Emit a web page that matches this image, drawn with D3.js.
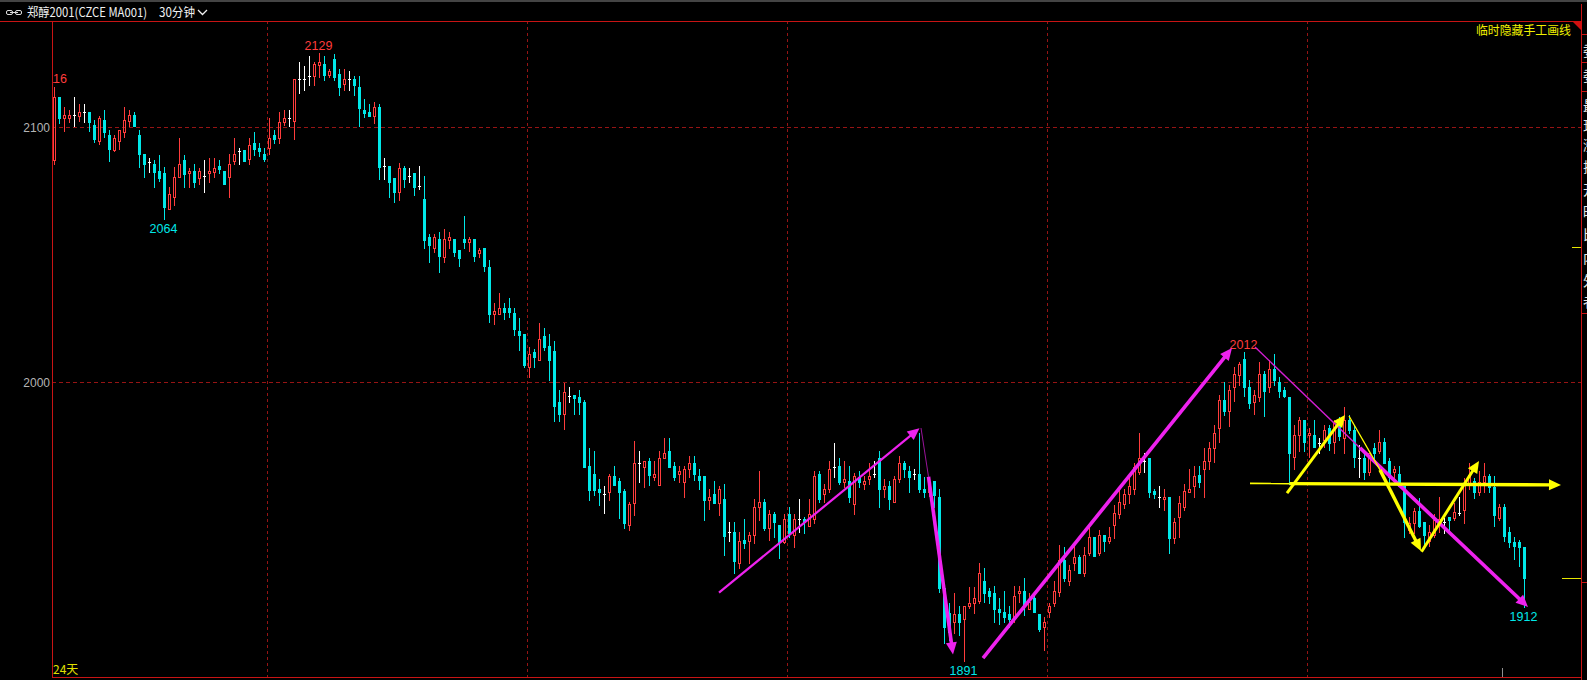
<!DOCTYPE html>
<html><head><meta charset="utf-8">
<script src="https://cdn.jsdelivr.net/npm/d3@7"></script>
<style>
html,body{margin:0;padding:0;background:#000;overflow:hidden;}
svg{display:block;}
</style></head><body>
<svg id="c" width="1587" height="680"></svg>
<script>
// ---------------- DATA ----------------
const opens = [2087.0,2111.6,2103.7,2103.7,2104.7,2104.4,2105.7,2105.7,2100.7,2094.6,
2102.7,2096.8,2091.0,2094.6,2097.9,2102.4,2104.7,2096.8,2089.6,2086.1,
2085.7,2082.9,2081.8,2067.7,2072.7,2080.5,2087.0,2081.8,2082.9,2079.9,
2080.8,2081.8,2082.5,2084.7,2082.9,2080.5,2086.8,2090.7,2091.0,2087.5,
2093.6,2091.6,2089.6,2091.6,2096.8,2095.5,2101.8,2103.7,2102.4,2118.7,
2118.7,2120.0,2120.0,2124.3,2124.7,2120.4,2126.6,2120.8,2116.7,2118.7,
2118.7,2115.5,2106.7,2105.8,2104.4,2107.7,2084.7,2084.7,2080.2,2074.7,
2084.1,2080.8,2081.9,2076.9,2071.8,2056.8,2052.8,2056.1,2048.9,2055.7,
2056.1,2051.8,2056.1,2054.8,2056.1,2050.8,2052.8,2045.0,2026.7,2026.7,
2029.0,2029.0,2027.0,2020.1,2018.9,2005.8,2012.0,2008.7,2018.1,2014.2,
2012.2,1992.1,1987.6,1994.8,1995.0,1994.1,1992.4,1967.2,1964.1,1958.2,
1956.2,1957.2,1963.4,1961.3,1957.4,1944.1,1952.8,1968.2,1966.9,1969.2,
1963.0,1959.8,1970.3,1973.1,1967.2,1964.0,1961.1,1965.9,1968.3,1963.3,
1963.3,1953.9,1956.2,1952.9,1954.2,1941.3,1941.3,1929.1,1938.3,1938.0,
1940.0,1951.1,1953.0,1943.1,1948.3,1944.1,1937.4,1948.4,1940.0,1946.5,
1946.5,1943.9,1946.4,1964.1,1956.2,1958.1,1967.0,1967.2,1961.1,1961.4,
1952.2,1963.1,1960.1,1962.0,1964.1,1970.3,1958.1,1959.4,1953.0,1962.2,
1968.3,1965.3,1964.1,1964.1,1958.2,1957.2,1961.4,1955.2,1919.3,1909.6,
1906.3,1909.3,1907.2,1912.2,1913.5,1914.4,1922.3,1918.4,1917.4,1911.1,
1910.2,1909.3,1907.6,1917.4,1918.4,1911.1,1915.4,1909.3,1904.3,1910.2,
1913.5,1918.0,1930.4,1922.0,1929.4,1931.4,1925.2,1933.0,1939.3,1933.0,
1940.2,1938.0,1944.1,1948.3,1952.2,1956.2,1958.1,1965.0,1969.2,1970.3,
1957.5,1955.2,1954.2,1955.2,1939.2,1947.4,1951.3,1957.2,1959.2,1963.5,
1965.9,1969.2,1974.2,1982.0,1993.1,1988.9,1998.0,2002.9,2009.1,1998.0,
1992.2,1994.1,2003.3,1998.0,2005.2,2000.0,1997.0,1994.4,1970.9,1979.4,
1985.3,1979.4,1979.4,1976.4,1977.4,1982.2,1976.8,1984.2,1978.1,1985.3,
1981.3,1970.2,1970.2,1965.0,1974.2,1972.9,1976.8,1969.2,1965.0,1964.1,
1959.4,1942.2,1944.8,1949.4,1945.2,1938.0,1940.2,1945.0,1945.4,1947.1,
1946.7,1949.0,1950.0,1959.8,1961.5,1957.2,1961.1,1963.3,1959.1,1946.7,
1951.0,1941.3,1937.3,1937.3,1935.4];

const highs = [2115.5,2111.6,2107.7,2106.6,2111.6,2109.0,2109.0,2105.7,2102.7,2104.4,
2106.6,2098.8,2096.8,2098.8,2107.7,2106.6,2105.7,2098.8,2089.6,2087.7,
2087.0,2089.0,2084.4,2076.6,2084.4,2095.5,2089.0,2083.8,2085.7,2083.8,
2087.0,2087.7,2087.7,2087.0,2082.9,2089.6,2095.5,2091.6,2091.0,2095.5,
2097.9,2093.6,2091.6,2103.7,2098.8,2105.7,2106.6,2106.6,2118.8,2125.6,
2123.9,2127.8,2125.6,2129.0,2127.8,2122.6,2128.5,2122.6,2122.6,2121.9,
2120.0,2120.0,2111.0,2109.0,2109.9,2109.0,2088.0,2084.7,2080.2,2085.8,
2084.7,2084.1,2081.9,2084.7,2080.8,2058.1,2058.1,2058.7,2060.0,2058.7,
2056.1,2051.8,2065.2,2057.0,2056.1,2052.8,2052.8,2047.9,2030.9,2034.8,
2030.9,2032.9,2029.0,2025.0,2018.9,2013.9,2013.0,2023.1,2021.1,2018.9,
2016.2,1997.0,1999.9,1998.0,1995.0,1997.0,1993.1,1974.1,1973.1,1962.1,
1959.4,1964.1,1967.2,1962.4,1958.2,1953.2,1977.0,1973.1,1969.2,1970.5,
1969.2,1973.1,1978.1,1978.1,1968.9,1967.2,1967.2,1971.2,1971.2,1965.9,
1963.3,1958.1,1961.4,1959.4,1960.1,1945.2,1945.2,1941.3,1946.5,1941.3,
1954.3,1965.4,1954.3,1950.0,1949.1,1944.1,1948.4,1951.1,1948.3,1954.3,
1947.4,1954.3,1965.3,1965.3,1960.1,1969.2,1976.1,1970.3,1969.2,1967.2,
1964.4,1965.3,1963.3,1968.3,1969.2,1973.1,1962.2,1961.4,1963.3,1971.2,
1969.2,1967.2,1966.1,1980.0,1963.1,1960.1,1961.4,1958.2,1919.3,1913.5,
1917.4,1912.4,1912.4,1920.0,1920.0,1929.1,1927.2,1919.3,1920.3,1915.4,
1918.3,1912.4,1920.3,1920.3,1923.3,1917.4,1917.4,1909.3,1908.2,1913.5,
1922.2,1936.1,1935.4,1928.5,1936.1,1932.4,1935.4,1943.5,1939.3,1942.2,
1940.2,1943.2,1952.0,1958.2,1958.2,1963.3,1968.3,1980.0,1972.2,1970.3,
1958.2,1959.2,1958.2,1955.2,1946.8,1955.5,1960.1,1966.1,1967.2,1967.2,
1974.2,1976.5,1983.3,1995.0,2000.3,1999.0,2006.1,2008.1,2012.0,2000.9,
1997.0,2008.1,2004.6,2008.8,2011.0,2002.0,1998.0,1994.4,1983.3,1986.3,
1985.3,1982.2,1985.3,1978.3,1983.3,1983.3,1985.3,1986.3,1990.2,1987.2,
1983.3,1975.5,1972.2,1972.2,1976.1,1981.3,1978.1,1970.2,1967.2,1967.2,
1959.4,1947.4,1950.7,1954.6,1945.2,1944.1,1948.4,1955.2,1946.7,1947.1,
1952.6,1955.2,1962.4,1968.3,1962.4,1965.3,1968.3,1964.1,1963.3,1952.3,
1952.3,1943.2,1939.3,1938.3,1935.4];

const lows = [2085.7,2101.7,2098.5,2102.0,2100.5,2102.4,2101.8,2098.5,2094.2,2093.3,
2095.9,2086.8,2090.7,2091.4,2096.2,2100.5,2100.5,2084.4,2080.5,2082.2,
2076.6,2078.9,2064.0,2067.7,2069.4,2080.5,2076.6,2076.6,2076.6,2077.6,
2074.6,2078.6,2080.5,2081.8,2077.6,2072.7,2085.7,2085.5,2086.8,2085.5,
2089.0,2088.7,2086.8,2089.4,2093.6,2093.6,2100.7,2100.5,2095.3,2113.5,
2114.5,2116.5,2116.5,2119.7,2118.4,2119.7,2118.4,2112.5,2114.5,2114.5,
2112.5,2100.5,2103.8,2104.4,2101.7,2079.6,2079.6,2072.7,2070.8,2071.4,
2076.6,2078.6,2073.4,2075.6,2052.8,2047.0,2050.9,2043.1,2047.0,2052.8,
2049.6,2045.7,2052.8,2051.5,2047.6,2048.9,2043.7,2023.7,2022.8,2026.7,
2024.8,2025.7,2018.5,2012.6,2005.8,2001.9,2005.8,2008.7,2012.6,2000.9,
1985.0,1985.0,1981.7,1992.1,1987.6,1987.6,1966.9,1953.9,1955.8,1951.9,
1948.9,1953.9,1959.8,1946.7,1943.1,1942.1,1948.0,1961.1,1959.1,1959.8,
1961.7,1959.8,1970.3,1967.0,1961.8,1961.1,1955.0,1963.1,1961.8,1958.1,
1946.1,1950.3,1952.9,1948.1,1932.4,1938.0,1925.2,1927.2,1935.0,1929.1,
1937.0,1946.1,1942.2,1938.3,1939.6,1931.1,1937.0,1939.6,1935.3,1941.3,
1940.9,1943.9,1944.8,1953.3,1953.0,1957.2,1963.1,1960.1,1958.9,1953.0,
1948.3,1958.9,1958.1,1960.1,1963.1,1951.1,1955.0,1950.3,1953.0,1961.1,
1963.1,1957.2,1962.2,1957.2,1955.0,1955.3,1951.3,1917.8,1897.8,1899.0,
1901.7,1901.1,1891.0,1911.5,1909.6,1913.5,1914.1,1913.5,1906.3,1905.4,
1906.3,1904.3,1906.3,1914.1,1908.9,1911.1,1910.2,1902.4,1895.2,1908.2,
1912.2,1916.1,1922.0,1920.6,1926.5,1925.2,1924.2,1932.4,1932.1,1932.4,
1934.1,1937.2,1939.2,1946.8,1950.7,1952.9,1956.2,1964.0,1965.0,1955.2,
1954.6,1951.3,1950.0,1933.0,1937.2,1939.6,1950.0,1957.2,1955.2,1959.1,
1955.2,1965.9,1968.9,1976.8,1987.2,1983.0,1992.8,1999.0,1994.8,1990.1,
1987.6,1992.8,1986.9,1996.1,1999.0,1994.1,1994.4,1960.2,1965.9,1973.2,
1972.9,1970.9,1974.8,1972.2,1974.8,1973.5,1972.2,1977.4,1972.2,1980.0,
1967.0,1963.1,1962.0,1963.7,1968.9,1972.2,1968.3,1960.2,1961.8,1959.4,
1939.6,1940.9,1940.9,1943.5,1936.3,1936.0,1939.6,1941.5,1941.1,1941.5,
1946.1,1948.0,1945.0,1958.1,1954.8,1955.9,1957.2,1957.2,1943.9,1946.1,
1938.0,1935.4,1930.8,1928.2,1912.0];

const closes = [2111.6,2103.7,2104.7,2104.7,2104.7,2105.7,2105.7,2101.8,2095.3,2103.7,
2097.9,2091.4,2095.5,2098.8,2102.7,2104.7,2100.5,2089.4,2085.7,2086.1,
2082.5,2080.2,2068.8,2073.7,2080.5,2085.7,2081.6,2082.9,2078.6,2082.9,
2080.8,2082.9,2083.8,2083.5,2077.6,2085.7,2089.6,2090.7,2086.8,2092.9,
2091.4,2090.6,2087.5,2095.5,2095.3,2101.8,2103.7,2103.7,2118.8,2118.7,
2118.7,2120.0,2124.7,2125.6,2120.4,2121.9,2119.7,2115.5,2118.7,2118.7,
2116.5,2107.6,2105.6,2104.4,2107.7,2084.5,2084.7,2078.6,2074.7,2083.8,
2079.6,2080.8,2076.6,2076.9,2055.7,2053.8,2056.8,2049.6,2056.1,2056.8,
2050.9,2048.8,2054.8,2056.1,2049.6,2051.8,2045.7,2026.7,2027.9,2029.0,
2027.4,2027.4,2020.9,2018.5,2006.8,2011.1,2010.0,2016.9,2013.9,2008.7,
1990.8,1987.6,1996.1,1994.8,1993.7,1992.1,1966.9,1957.8,1957.8,1956.9,
1956.2,1963.4,1959.8,1957.2,1945.0,1952.3,1968.2,1968.2,1969.2,1963.7,
1964.1,1970.5,1972.2,1967.0,1963.1,1965.3,1966.1,1968.3,1964.0,1961.8,
1953.9,1955.0,1952.9,1958.1,1939.8,1941.3,1930.0,1938.0,1937.0,1940.2,
1951.1,1953.0,1943.1,1948.3,1945.1,1937.4,1946.5,1940.9,1946.5,1946.5,
1945.2,1948.3,1963.3,1954.3,1958.1,1966.1,1967.0,1961.1,1962.2,1955.0,
1963.3,1961.1,1961.4,1963.3,1964.1,1958.1,1959.4,1954.2,1962.2,1968.3,
1965.9,1963.1,1964.1,1958.1,1957.2,1960.1,1955.9,1919.3,1904.3,1902.0,
1909.3,1906.3,1912.4,1913.5,1915.4,1925.2,1917.4,1916.3,1911.1,1910.2,
1908.2,1907.2,1916.3,1918.4,1912.2,1914.1,1910.2,1903.3,1906.3,1912.4,
1918.3,1930.4,1923.3,1926.5,1931.4,1925.2,1932.4,1939.3,1932.1,1940.2,
1938.0,1939.3,1948.7,1953.0,1956.2,1959.4,1967.0,1970.3,1969.2,1957.2,
1956.2,1955.2,1955.2,1939.2,1945.4,1952.6,1957.5,1958.2,1963.3,1961.1,
1969.2,1974.4,1980.0,1993.1,1988.9,1997.0,2003.3,2007.2,1998.0,1992.0,
1995.0,2003.3,1996.7,2005.2,2000.9,1996.7,1994.8,1972.2,1979.4,1985.3,
1976.8,1980.0,1974.8,1976.4,1981.3,1976.1,1984.2,1979.1,1985.3,1981.3,
1970.9,1970.2,1965.0,1972.2,1972.2,1976.8,1968.3,1963.1,1965.9,1959.4,
1945.4,1945.0,1949.4,1943.9,1940.0,1941.3,1946.1,1946.3,1945.4,1946.1,
1949.1,1949.0,1959.8,1963.6,1957.2,1961.1,1963.3,1959.1,1948.0,1951.0,
1939.9,1937.3,1936.0,1935.4,1923.2];

const yTickValues = [2000, 2100];
const yTickLabels = ["2000", "2100"];
const dayStartIndex = [43, 95, 147, 199, 251];

// extreme markers: candle index, price, label, kind
const markIndex = [0, 53, 22, 182, 238, 294];
const markPrice = [2116, 2129, 2064, 1891, 2012, 1912];
const markText  = ["2116", "2129", "2064", "1891", "2012", "1912"];
const markKind  = ["high", "high", "low", "low", "high", "low"];

// hand-drawn annotation segments, [index, price] ends
const magentaSegs = [
  {a:[132.9,1917.6], b:[173.0,1982.0], w:2.2, head:true,  col:"#ee22ee"},
  {a:[173.3,1982.1], b:[174.8,1963.0], w:1,   head:false, col:"#9a139a"},
  {a:[174.8,1963.0], b:[179.7,1893.4], w:3.6, head:true,  col:"#ee22ee"},
  {a:[185.7,1892.0], b:[235.5,2013.4], w:3.6, head:true,  col:"#ee22ee"},
  {a:[240.1,2013.8], b:[261.1,1974.3], w:1.4, head:false, col:"#d21ed2"},
  {a:[261.1,1974.3], b:[294.7,1912.0], w:3.6, head:true,  col:"#ee22ee"}
];
const yellowSegs = [
  {a:[239.1,1960.4], b:[247.0,1960.3], w:1.6, head:false},
  {a:[247.0,1960.3], b:[301.3,1959.8], w:3.4, head:true},
  {a:[246.5,1956.6], b:[258.1,1987.2], w:3,   head:true},
  {a:[258.9,1986.8], b:[265.1,1965.7], w:1.3, head:false},
  {a:[265.1,1965.7], b:[273.3,1933.9], w:3.4, head:true},
  {a:[273.4,1933.6], b:[284.9,1969.2], w:3,   head:true}
];

// ---------------- DRAW ----------------
const W = 1587, H = 680;
const L = 52, R = 1581, T = 21, B = 677;
const N = opens.length;
const svg = d3.select("#c");
const RED = "#ff3c3c", CYAN = "#00e8e8", WHITE = "#ffffff", FRAME = "#c81414", GRID = "#961414";

svg.append("rect").attr("width", W).attr("height", H).attr("fill", "#000");
svg.append("rect").attr("x", 0).attr("y", 0).attr("width", W).attr("height", 2).attr("fill", "#444");

const xb = d3.scaleBand().domain(d3.range(N)).range([L, L + 5 * N]);
const xl = d3.scaleLinear().domain([0, N - 1]).range([xb(0) + 2.5, xb(N - 1) + 2.5]);
const y = d3.scaleLinear().domain([2000, 2100]).range([382.3, 127]);
const ry = v => Math.round(y(v));

svg.append("defs").append("clipPath").attr("id", "plot")
  .append("rect").attr("x", L + 1).attr("y", T + 1).attr("width", R - L - 1).attr("height", B - T - 1);

// grid
const grid = svg.append("g").attr("shape-rendering", "crispEdges");
grid.selectAll("line.h").data(yTickValues).join("line")
  .attr("x1", L).attr("x2", R).attr("y1", d => ry(d) + 0.5).attr("y2", d => ry(d) + 0.5)
  .attr("stroke", GRID).attr("stroke-dasharray", "4,3");
grid.selectAll("line.v").data(dayStartIndex).join("line")
  .attr("x1", d => xb(d) + 0.5).attr("x2", d => xb(d) + 0.5).attr("y1", T).attr("y2", B)
  .attr("stroke", GRID).attr("stroke-dasharray", "3,3");

// y axis labels
const yAxis = d3.axisLeft(y).tickValues(yTickValues).tickFormat((d, i) => yTickLabels[i]).tickSize(0).tickPadding(2);
const ya = svg.append("g").attr("transform", `translate(${L},0)`).call(yAxis);
ya.select(".domain").remove();
ya.selectAll("text").attr("fill", "#b4b4b4").attr("font-family", "Liberation Sans, Arial, sans-serif").attr("font-size", 12).attr("dy", "0.36em");

// candles
const cg = svg.append("g").attr("clip-path", "url(#plot)").attr("shape-rendering", "crispEdges");
d3.range(N).forEach(i => {
  const o = opens[i], h = highs[i], l = lows[i], c = closes[i];
  const x0 = xb(i) + 1;             // body left pixel
  const xw = xb(i) + 2;             // wick pixel column
  const yo = ry(o), yc = ry(c), yh = ry(h), yl = ry(l);
  const top = Math.min(yo, yc), bot = Math.max(yo, yc);
  if (c > o) {
    const b2 = Math.max(bot, top + 1);
    if (yh < top) cg.append("rect").attr("x", xw).attr("y", yh).attr("width", 1).attr("height", top - yh).attr("fill", RED);
    if (yl > b2) cg.append("rect").attr("x", xw).attr("y", b2 + 1).attr("width", 1).attr("height", yl - b2).attr("fill", RED);
    cg.append("rect").attr("x", x0 + 0.5).attr("y", top + 0.5).attr("width", 2).attr("height", b2 - top)
      .attr("fill", "none").attr("stroke", RED).attr("stroke-width", 1);
  } else if (c < o) {
    cg.append("rect").attr("x", xw).attr("y", yh).attr("width", 1).attr("height", yl - yh + 1).attr("fill", CYAN);
    cg.append("rect").attr("x", x0).attr("y", top).attr("width", 3).attr("height", Math.max(bot - top, 1) + 1).attr("fill", CYAN);
  } else {
    cg.append("rect").attr("x", xw).attr("y", yh).attr("width", 1).attr("height", yl - yh + 1).attr("fill", WHITE);
    cg.append("rect").attr("x", x0).attr("y", top).attr("width", 3).attr("height", 1).attr("fill", WHITE);
  }
});

// extreme labels
const lg = svg.append("g").attr("clip-path", "url(#plot)");
markIndex.forEach((mi, k) => {
  const isHigh = markKind[k] === "high";
  lg.append("text")
    .attr("x", xl(mi) - 1)
    .attr("y", isHigh ? y(markPrice[k]) - 3 : y(markPrice[k]) + 14)
    .attr("text-anchor", "middle")
    .attr("font-family", "Liberation Sans, Arial, sans-serif").attr("font-size", 12.5)
    .attr("fill", isHigh ? "#ff3c3c" : "#00e8e8")
    .text(markText[k]);
});

// annotation arrows
const ag = svg.append("g").attr("clip-path", "url(#plot)");
function seg(s, col) {
  const x1 = xl(s.a[0]), y1 = y(s.a[1]), x2 = xl(s.b[0]), y2 = y(s.b[1]);
  const dx = x2 - x1, dy = y2 - y1, len = Math.hypot(dx, dy);
  const ux = dx / len, uy = dy / len;
  const hl = 12, hw = 5.5;
  const ex = s.head ? x2 - ux * hl * 0.7 : x2, ey = s.head ? y2 - uy * hl * 0.7 : y2;
  ag.append("line").attr("x1", x1).attr("y1", y1).attr("x2", ex).attr("y2", ey)
    .attr("stroke", col).attr("stroke-width", s.w).attr("stroke-linecap", "butt");
  if (s.head) {
    const bx = x2 - ux * hl, by = y2 - uy * hl;
    ag.append("polygon")
      .attr("points", [[x2, y2], [bx - uy * hw, by + ux * hw], [bx + uy * hw, by - ux * hw]].map(p => p.join(",")).join(" "))
      .attr("fill", col);
  }
}
magentaSegs.forEach(s => seg(s, s.col));
yellowSegs.forEach(s => seg(s, "#ffff00"));

// frame
const fg = svg.append("g").attr("shape-rendering", "crispEdges");
fg.append("line").attr("x1", 0).attr("x2", R).attr("y1", T + 0.5).attr("y2", T + 0.5).attr("stroke", FRAME);
fg.append("line").attr("x1", L + 0.5).attr("x2", L + 0.5).attr("y1", T).attr("y2", B).attr("stroke", FRAME);
fg.append("line").attr("x1", L).attr("x2", R).attr("y1", B + 0.5).attr("y2", B + 0.5).attr("stroke", FRAME);
fg.append("line").attr("x1", R + 0.5).attr("x2", R + 0.5).attr("y1", 4).attr("y2", H).attr("stroke", FRAME);
[34, 62, 91, 313, 582].forEach(yy => fg.append("line").attr("x1", R).attr("x2", W).attr("y1", yy + 0.5).attr("y2", yy + 0.5).attr("stroke", FRAME));
svg.append("polygon").attr("points", `1572,21 ${R + 1},21 ${R + 1},31`).attr("fill", "#d01010");

// right-edge markers
fg.append("line").attr("x1", 1572).attr("x2", R).attr("y1", ry(2052.9) + 0.5).attr("y2", ry(2052.9) + 0.5).attr("stroke", "#e6e600");
fg.append("line").attr("x1", 1562).attr("x2", R).attr("y1", ry(closes[N - 1]) + 0.5).attr("y2", ry(closes[N - 1]) + 0.5).attr("stroke", "#e6e600");
fg.append("line").attr("x1", 1502.5).attr("x2", 1502.5).attr("y1", 668).attr("y2", B).attr("stroke", "#909090");

// right panel (only a sliver of its text column is inside the window, as in the reference)
const sideChars = ["委", "委", "最", "现", "涨", "振", "开", "昨", "比", "内", "外", "者"];
const sideY = [56, 81, 111, 131, 150, 172, 195, 217, 240, 263, 286, 307];
sideChars.forEach((ch, k) => svg.append("text").attr("x", 1583).attr("y", sideY[k])
  .attr("font-family", "Noto Sans CJK SC, sans-serif").attr("font-size", 14).attr("fill", "#e8e8e8").text(ch));

// header
const hd = svg.append("g");
hd.append("rect").attr("x", 6.5).attr("y", 10.5).attr("width", 6).attr("height", 4).attr("rx", 1.5).attr("fill", "none").attr("stroke", "#ddd");
hd.append("rect").attr("x", 15.5).attr("y", 10.5).attr("width", 6).attr("height", 4).attr("rx", 1.5).attr("fill", "none").attr("stroke", "#ddd");
hd.append("line").attr("x1", 10).attr("x2", 18).attr("y1", 12.5).attr("y2", 12.5).attr("stroke", "#ddd");
hd.append("text").attr("x", 27).attr("y", 16.5).attr("font-family", "Noto Sans CJK SC, sans-serif").attr("font-size", 12.5)
  .attr("fill", "#f0f0f0").attr("textLength", 120).attr("lengthAdjust", "spacingAndGlyphs").text("郑醇2001(CZCE MA001)");
hd.append("text").attr("x", 159).attr("y", 16.5).attr("font-family", "Noto Sans CJK SC, sans-serif").attr("font-size", 12.5)
  .attr("fill", "#f0f0f0").attr("textLength", 36).attr("lengthAdjust", "spacingAndGlyphs").text("30分钟");
hd.append("path").attr("d", "M198,10 L202.5,14.5 L207,10").attr("fill", "none").attr("stroke", "#f0f0f0").attr("stroke-width", 1.3);

svg.append("text").attr("x", 1476).attr("y", 35).attr("font-family", "Noto Sans CJK SC, sans-serif").attr("font-size", 12)
  .attr("fill", "#f0f000").attr("textLength", 95).attr("lengthAdjust", "spacingAndGlyphs").text("临时隐藏手工画线");
svg.append("text").attr("x", 53).attr("y", 674).attr("font-family", "Noto Sans CJK SC, sans-serif").attr("font-size", 12)
  .attr("fill", "#e0e000").text("24天");
</script>
</body></html>
